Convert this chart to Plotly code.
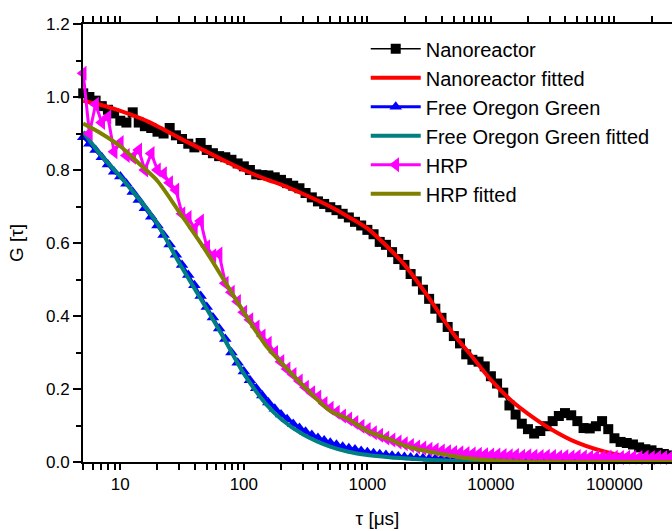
import plotly.graph_objects as go

# ---- data ----
tau = [5.01, 5.62, 6.31, 7.08, 7.94, 8.91,
       10.0, 11.2, 12.6, 14.1, 15.8, 17.8, 20.0, 22.4, 25.1, 28.2, 31.6, 35.5, 39.8, 44.7, 50.1, 56.2, 63.1, 70.8, 79.4, 89.1,
       100, 112, 126, 141, 158, 178, 200, 224, 251, 282, 316, 355, 398, 447, 501, 562, 631, 708, 794, 891,
       1000, 1122, 1259, 1413, 1585, 1778, 1995, 2239, 2512, 2818, 3162, 3548, 3981, 4467, 5012, 5623, 6310, 7079, 7943, 8913,
       10000, 11220, 12589, 14125, 15849, 17783, 19953, 22387, 25119, 28184, 31623, 35481, 39811, 44668, 50119, 56234, 63096, 70795, 79433, 89125,
       100000, 112202, 125893, 141254, 158489, 177828, 199526, 223872, 251189, 281838]

nanoreactor = [1.01, 1.00, 0.99, 0.975, 0.965, 0.955,
               0.935, 0.93, 0.958, 0.93, 0.92, 0.915, 0.905, 0.90, 0.915, 0.895, 0.885, 0.872, 0.862, 0.874, 0.855, 0.846, 0.838, 0.835, 0.828, 0.818,
               0.81, 0.80, 0.788, 0.786, 0.785, 0.78, 0.773, 0.764, 0.757, 0.75, 0.737, 0.725, 0.714, 0.707, 0.698, 0.69, 0.68, 0.67, 0.658, 0.648,
               0.636, 0.624, 0.603, 0.595, 0.575, 0.556, 0.54, 0.515, 0.495, 0.472, 0.447, 0.42, 0.395, 0.37, 0.345, 0.325, 0.295, 0.28, 0.275, 0.262,
               0.235, 0.215, 0.19, 0.155, 0.13, 0.105, 0.09, 0.078, 0.085, 0.098, 0.112, 0.126, 0.134, 0.128, 0.112, 0.093, 0.092, 0.098, 0.112, 0.09,
               0.065, 0.055, 0.052, 0.048, 0.04, 0.035, 0.032, 0.025, 0.022, 0.018]

free_og = [0.89, 0.872, 0.855, 0.835, 0.815, 0.795,
           0.782, 0.762, 0.74, 0.718, 0.695, 0.672, 0.648, 0.622, 0.596, 0.568, 0.54, 0.512, 0.484, 0.455, 0.425, 0.396, 0.366, 0.337, 0.30, 0.272,
           0.248, 0.224, 0.202, 0.182, 0.163, 0.146, 0.13, 0.117, 0.104, 0.093, 0.083, 0.074, 0.066, 0.059, 0.053, 0.047, 0.042, 0.038, 0.034, 0.03,
           0.027, 0.024, 0.021, 0.019, 0.017, 0.015, 0.014, 0.012, 0.011, 0.01, 0.009, 0.009, 0.008, 0.007, 0.007, 0.006, 0.008, 0.006, 0.007, 0.005,
           0.007, 0.006, 0.008, 0.006, 0.005, 0.007, 0.006, 0.008, 0.006, 0.007, 0.005, 0.006, 0.007, 0.006, 0.008, 0.005, 0.007, 0.006, 0.006, 0.008,
           0.005, 0.007, 0.006, 0.007, 0.005, 0.006, 0.008, 0.006, 0.007, 0.006]

hrp = [1.065, 0.90, 0.98, 0.93, 0.945, 0.85,
       0.875, 0.84, 0.835, 0.855, 0.80, 0.845, 0.80, 0.79, 0.765, 0.745, 0.68, 0.67, 0.64, 0.66, 0.59, 0.565, 0.57, 0.49, 0.465, 0.44,
       0.41, 0.39, 0.37, 0.345, 0.325, 0.30, 0.275, 0.255, 0.24, 0.222, 0.205, 0.19, 0.178, 0.16, 0.147, 0.136, 0.126, 0.118, 0.108, 0.098,
       0.089, 0.08, 0.073, 0.066, 0.06, 0.055, 0.05, 0.045, 0.041, 0.038, 0.035, 0.033, 0.03, 0.028, 0.026, 0.025, 0.023, 0.022, 0.021, 0.02,
       0.019, 0.019, 0.018, 0.017, 0.018, 0.016, 0.017, 0.016, 0.015, 0.016, 0.015, 0.014, 0.015, 0.014, 0.015, 0.014, 0.013, 0.014, 0.013, 0.014,
       0.013, 0.012, 0.013, 0.013, 0.012, 0.013, 0.012, 0.013, 0.012, 0.012]

fit_tau = [5, 7, 10, 15, 20, 30, 50, 70, 100, 150, 200, 300, 500, 700, 1000, 1500, 2000, 3000,
           5000, 7000, 10000, 15000, 20000, 30000, 50000, 100000, 200000, 300000]
nanoreactor_fit = [0.99, 0.978, 0.962, 0.94, 0.92, 0.888, 0.85, 0.825, 0.80, 0.775, 0.76, 0.735, 0.70, 0.672,
                   0.64, 0.585, 0.54, 0.46, 0.35, 0.29, 0.225, 0.165, 0.132, 0.092, 0.053, 0.022, 0.008, 0.004]
free_og_fit = [0.905, 0.84, 0.782, 0.71, 0.652, 0.545, 0.42, 0.335, 0.242, 0.16, 0.118, 0.076, 0.042, 0.028,
               0.019, 0.013, 0.01, 0.006, 0.003, 0.002, 0.001, 0.0005, 0.0003, 0.0002, 0.0001, 0.0, 0.0, 0.0]
hrp_fit = [0.927, 0.90, 0.865, 0.81, 0.77, 0.685, 0.575, 0.495, 0.41, 0.32, 0.273, 0.21, 0.14, 0.118,
           0.085, 0.063, 0.045, 0.03, 0.016, 0.009, 0.005, 0.002, 0.001, 0.0005, 0.0002, 0.0, 0.0, 0.0]

major_ticks = [10, 100, 1000, 10000, 100000]
major_labels = ["10", "100", "1000", "10000", "100000"]
minor_ticks = [m * 10 ** e for e in range(0, 6) for m in range(2, 10) if 5 <= m * 10 ** e <= 290000]
all_ticks = major_ticks + minor_ticks
all_labels = major_labels + [""] * len(minor_ticks)

FONT = "Liberation Sans, Arial, sans-serif"

fig = go.Figure()
fig.add_trace(go.Scatter(x=tau, y=nanoreactor, name="Nanoreactor", mode="lines+markers",
                         line=dict(color="black", width=1.5),
                         marker=dict(symbol="square", size=10, color="black"), cliponaxis=False))
fig.add_trace(go.Scatter(x=fit_tau, y=nanoreactor_fit, name="Nanoreactor fitted", mode="lines",
                         line=dict(color="#FF0000", width=4, shape="spline", smoothing=0.8)))
fig.add_trace(go.Scatter(x=tau, y=free_og, name="Free Oregon Green", mode="lines+markers",
                         line=dict(color="#0000FF", width=3),
                         marker=dict(symbol="triangle-up", size=11, color="#0000FF"), cliponaxis=False))
fig.add_trace(go.Scatter(x=fit_tau, y=free_og_fit, name="Free Oregon Green fitted", mode="lines",
                         line=dict(color="#008080", width=4, shape="spline", smoothing=0.8)))
fig.add_trace(go.Scatter(x=tau, y=hrp, name="HRP", mode="lines+markers",
                         line=dict(color="#FF00FF", width=3),
                         marker=dict(symbol="triangle-left", size=13, color="#FF00FF"), cliponaxis=False))
fig.add_trace(go.Scatter(x=fit_tau, y=hrp_fit, name="HRP fitted", mode="lines",
                         line=dict(color="#808000", width=4, shape="spline", smoothing=0.8)))

xr = [0.698, 5.466]
fig.update_layout(
    width=672, height=531,
    margin=dict(l=83, r=0, t=24, b=69, pad=0),
    paper_bgcolor="white", plot_bgcolor="white",
    font=dict(family=FONT, color="black", size=17),
    showlegend=True,
    legend=dict(x=0.48, y=0.988, xanchor="left", yanchor="top", bgcolor="rgba(0,0,0,0)",
                font=dict(size=20, family=FONT), itemwidth=50, tracegroupgap=0),
    xaxis=dict(type="log", range=xr, autorange=False, showline=True, linecolor="black", linewidth=2,
               mirror="ticks",
               ticks="outside", ticklen=6, tickwidth=1.5, tickcolor="black",
               tickmode="array", tickvals=all_ticks, ticktext=all_labels,
               showgrid=False, zeroline=False,
               tickfont=dict(size=17), title=dict(text="τ [μs]", font=dict(size=19), standoff=18)),
    yaxis=dict(range=[0, 1.2], dtick=0.2, tickformat=".1f", showline=True, linecolor="black", linewidth=2,
               ticks="outside", ticklen=8, tickwidth=1.5, tickcolor="black", showgrid=False, zeroline=False,
               minor=dict(dtick=0.1, ticks="outside", ticklen=5, tickwidth=1.5, tickcolor="black", showgrid=False),
               tickfont=dict(size=17), title=dict(text="G [τ]", font=dict(size=19), standoff=17)),
)

fig.write_html("out.html")
